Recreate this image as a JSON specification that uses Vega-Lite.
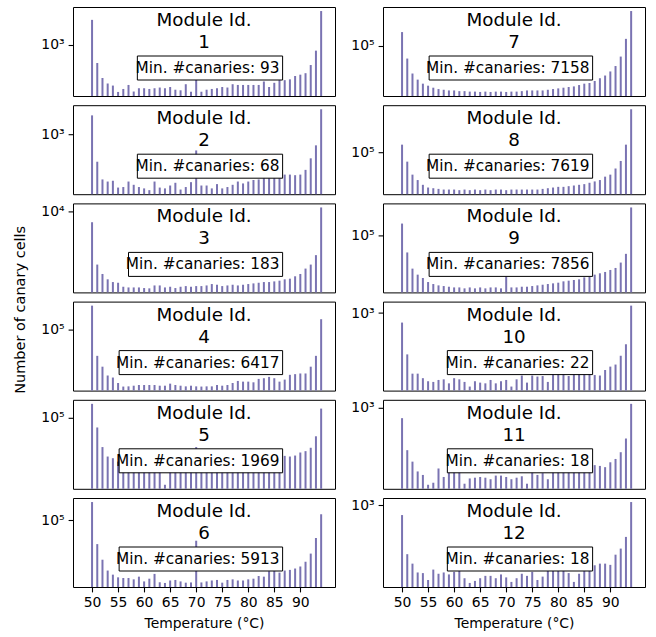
{"$schema":"https://vega.github.io/schema/vega-lite/v6.json",
"padding":{"left":12,"top":6,"right":5,"bottom":2},
"title":{"text":"Number of canary cells","orient":"left","anchor":"middle","fontSize":14.5,"fontWeight":"normal","font":"DejaVu Sans","color":"#000","offset":12,"dx":9},
"datasets":{"counts":[
{"m":1,"t":50,"c":3440},{"m":1,"t":51,"c":397},{"m":1,"t":52,"c":187},{"m":1,"t":53,"c":142},{"m":1,"t":54,"c":128},{"m":1,"t":55,"c":93},{"m":1,"t":56,"c":108},{"m":1,"t":57,"c":132},{"m":1,"t":58,"c":95},{"m":1,"t":59,"c":112},{"m":1,"t":60,"c":112},{"m":1,"t":61,"c":108},{"m":1,"t":62,"c":112},{"m":1,"t":63,"c":116},{"m":1,"t":64,"c":112},{"m":1,"t":65,"c":119},{"m":1,"t":66,"c":104},{"m":1,"t":67,"c":101},{"m":1,"t":68,"c":137},{"m":1,"t":69,"c":94},{"m":1,"t":70,"c":200},{"m":1,"t":71,"c":94},{"m":1,"t":72,"c":104},{"m":1,"t":73,"c":108},{"m":1,"t":74,"c":112},{"m":1,"t":75,"c":119},{"m":1,"t":76,"c":116},{"m":1,"t":77,"c":137},{"m":1,"t":78,"c":132},{"m":1,"t":79,"c":132},{"m":1,"t":80,"c":132},{"m":1,"t":81,"c":132},{"m":1,"t":82,"c":132},{"m":1,"t":83,"c":157},{"m":1,"t":84,"c":119},{"m":1,"t":85,"c":147},{"m":1,"t":86,"c":168},{"m":1,"t":87,"c":168},{"m":1,"t":88,"c":175},{"m":1,"t":89,"c":207},{"m":1,"t":90,"c":221},{"m":1,"t":91,"c":238},{"m":1,"t":92,"c":358},{"m":1,"t":93,"c":736},{"m":1,"t":94,"c":5350},
{"m":2,"t":50,"c":2512},{"m":2,"t":51,"c":268},{"m":2,"t":52,"c":114},{"m":2,"t":53,"c":103},{"m":2,"t":54,"c":107},{"m":2,"t":55,"c":77},{"m":2,"t":56,"c":79},{"m":2,"t":57,"c":103},{"m":2,"t":58,"c":88},{"m":2,"t":59,"c":79},{"m":2,"t":60,"c":74},{"m":2,"t":61,"c":68},{"m":2,"t":62,"c":103},{"m":2,"t":63,"c":77},{"m":2,"t":64,"c":74},{"m":2,"t":65,"c":85},{"m":2,"t":66,"c":97},{"m":2,"t":67,"c":70},{"m":2,"t":68,"c":79},{"m":2,"t":69,"c":100},{"m":2,"t":70,"c":462},{"m":2,"t":71,"c":85},{"m":2,"t":72,"c":85},{"m":2,"t":73,"c":74},{"m":2,"t":74,"c":91},{"m":2,"t":75,"c":74},{"m":2,"t":76,"c":79},{"m":2,"t":77,"c":88},{"m":2,"t":78,"c":103},{"m":2,"t":79,"c":94},{"m":2,"t":80,"c":103},{"m":2,"t":81,"c":111},{"m":2,"t":82,"c":114},{"m":2,"t":83,"c":122},{"m":2,"t":84,"c":122},{"m":2,"t":85,"c":126},{"m":2,"t":86,"c":135},{"m":2,"t":87,"c":144},{"m":2,"t":88,"c":144},{"m":2,"t":89,"c":140},{"m":2,"t":90,"c":144},{"m":2,"t":91,"c":181},{"m":2,"t":92,"c":316},{"m":2,"t":93,"c":591},{"m":2,"t":94,"c":3376},
{"m":3,"t":50,"c":5715},{"m":3,"t":51,"c":631},{"m":3,"t":52,"c":387},{"m":3,"t":53,"c":293},{"m":3,"t":54,"c":254},{"m":3,"t":55,"c":245},{"m":3,"t":56,"c":199},{"m":3,"t":57,"c":192},{"m":3,"t":58,"c":192},{"m":3,"t":59,"c":192},{"m":3,"t":60,"c":186},{"m":3,"t":61,"c":183},{"m":3,"t":62,"c":213},{"m":3,"t":63,"c":213},{"m":3,"t":64,"c":192},{"m":3,"t":65,"c":199},{"m":3,"t":66,"c":186},{"m":3,"t":67,"c":199},{"m":3,"t":68,"c":206},{"m":3,"t":69,"c":199},{"m":3,"t":70,"c":206},{"m":3,"t":71,"c":206},{"m":3,"t":72,"c":213},{"m":3,"t":73,"c":229},{"m":3,"t":74,"c":221},{"m":3,"t":75,"c":206},{"m":3,"t":76,"c":213},{"m":3,"t":77,"c":221},{"m":3,"t":78,"c":213},{"m":3,"t":79,"c":221},{"m":3,"t":80,"c":229},{"m":3,"t":81,"c":237},{"m":3,"t":82,"c":245},{"m":3,"t":83,"c":254},{"m":3,"t":84,"c":254},{"m":3,"t":85,"c":263},{"m":3,"t":86,"c":273},{"m":3,"t":87,"c":293},{"m":3,"t":88,"c":303},{"m":3,"t":89,"c":343},{"m":3,"t":90,"c":387},{"m":3,"t":91,"c":512},{"m":3,"t":92,"c":631},{"m":3,"t":93,"c":1031},{"m":3,"t":94,"c":12330},
{"m":4,"t":50,"c":312600},{"m":4,"t":51,"c":28050},{"m":4,"t":52,"c":16670},{"m":4,"t":53,"c":10910},{"m":4,"t":54,"c":9890},{"m":4,"t":55,"c":7620},{"m":4,"t":56,"c":6417},{"m":4,"t":57,"c":6480},{"m":4,"t":58,"c":6690},{"m":4,"t":59,"c":6910},{"m":4,"t":60,"c":6910},{"m":4,"t":61,"c":6910},{"m":4,"t":62,"c":6910},{"m":4,"t":63,"c":6690},{"m":4,"t":64,"c":6690},{"m":4,"t":65,"c":7380},{"m":4,"t":66,"c":6910},{"m":4,"t":67,"c":6690},{"m":4,"t":68,"c":6480},{"m":4,"t":69,"c":6690},{"m":4,"t":70,"c":6480},{"m":4,"t":71,"c":6417},{"m":4,"t":72,"c":6480},{"m":4,"t":73,"c":6480},{"m":4,"t":74,"c":6910},{"m":4,"t":75,"c":6690},{"m":4,"t":76,"c":6910},{"m":4,"t":77,"c":7620},{"m":4,"t":78,"c":8400},{"m":4,"t":79,"c":8130},{"m":4,"t":80,"c":8130},{"m":4,"t":81,"c":7870},{"m":4,"t":82,"c":9270},{"m":4,"t":83,"c":9580},{"m":4,"t":84,"c":10210},{"m":4,"t":85,"c":9580},{"m":4,"t":86,"c":8130},{"m":4,"t":87,"c":8970},{"m":4,"t":88,"c":11270},{"m":4,"t":89,"c":11650},{"m":4,"t":90,"c":12030},{"m":4,"t":91,"c":12030},{"m":4,"t":92,"c":16670},{"m":4,"t":93,"c":28050},{"m":4,"t":94,"c":163000},
{"m":5,"t":50,"c":219800},{"m":5,"t":51,"c":55460},{"m":5,"t":52,"c":17700},{"m":5,"t":53,"c":10200},{"m":5,"t":54,"c":9250},{"m":5,"t":55,"c":7590},{"m":5,"t":56,"c":6800},{"m":5,"t":57,"c":6200},{"m":5,"t":58,"c":5800},{"m":5,"t":59,"c":5600},{"m":5,"t":60,"c":5900},{"m":5,"t":61,"c":5400},{"m":5,"t":62,"c":5700},{"m":5,"t":63,"c":5600},{"m":5,"t":64,"c":1969},{"m":5,"t":65,"c":5500},{"m":5,"t":66,"c":5800},{"m":5,"t":67,"c":5600},{"m":5,"t":68,"c":5900},{"m":5,"t":69,"c":6000},{"m":5,"t":70,"c":17700},{"m":5,"t":71,"c":5800},{"m":5,"t":72,"c":5900},{"m":5,"t":73,"c":6100},{"m":5,"t":74,"c":6000},{"m":5,"t":75,"c":6200},{"m":5,"t":76,"c":6300},{"m":5,"t":77,"c":6500},{"m":5,"t":78,"c":6700},{"m":5,"t":79,"c":6900},{"m":5,"t":80,"c":7100},{"m":5,"t":81,"c":7300},{"m":5,"t":82,"c":7500},{"m":5,"t":83,"c":7800},{"m":5,"t":84,"c":8300},{"m":5,"t":85,"c":8800},{"m":5,"t":86,"c":9600},{"m":5,"t":87,"c":10600},{"m":5,"t":88,"c":10200},{"m":5,"t":89,"c":10800},{"m":5,"t":90,"c":12900},{"m":5,"t":91,"c":13960},{"m":5,"t":92,"c":17000},{"m":5,"t":93,"c":33200},{"m":5,"t":94,"c":166700},
{"m":6,"t":50,"c":228800},{"m":6,"t":51,"c":34200},{"m":6,"t":52,"c":16900},{"m":6,"t":53,"c":10360},{"m":6,"t":54,"c":8610},{"m":6,"t":55,"c":7620},{"m":6,"t":56,"c":7390},{"m":6,"t":57,"c":7390},{"m":6,"t":58,"c":6960},{"m":6,"t":59,"c":7860},{"m":6,"t":60,"c":6340},{"m":6,"t":61,"c":7170},{"m":6,"t":62,"c":8900},{"m":6,"t":63,"c":6100},{"m":6,"t":64,"c":5913},{"m":6,"t":65,"c":6610},{"m":6,"t":66,"c":6770},{"m":6,"t":67,"c":6340},{"m":6,"t":68,"c":5990},{"m":6,"t":69,"c":6050},{"m":6,"t":70,"c":39850},{"m":6,"t":71,"c":6050},{"m":6,"t":72,"c":6340},{"m":6,"t":73,"c":6610},{"m":6,"t":74,"c":6770},{"m":6,"t":75,"c":5990},{"m":6,"t":76,"c":6770},{"m":6,"t":77,"c":6960},{"m":6,"t":78,"c":6610},{"m":6,"t":79,"c":6610},{"m":6,"t":80,"c":6960},{"m":6,"t":81,"c":7170},{"m":6,"t":82,"c":8090},{"m":6,"t":83,"c":7860},{"m":6,"t":84,"c":10040},{"m":6,"t":85,"c":10360},{"m":6,"t":86,"c":9440},{"m":6,"t":87,"c":10360},{"m":6,"t":88,"c":10670},{"m":6,"t":89,"c":11350},{"m":6,"t":90,"c":12440},{"m":6,"t":91,"c":15420},{"m":6,"t":92,"c":22280},{"m":6,"t":93,"c":45100},{"m":6,"t":94,"c":131800},
{"m":7,"t":50,"c":216700},{"m":7,"t":51,"c":47960},{"m":7,"t":52,"c":20460},{"m":7,"t":53,"c":14450},{"m":7,"t":54,"c":11480},{"m":7,"t":55,"c":10230},{"m":7,"t":56,"c":9120},{"m":7,"t":57,"c":8440},{"m":7,"t":58,"c":8110},{"m":7,"t":59,"c":7800},{"m":7,"t":60,"c":7800},{"m":7,"t":61,"c":7500},{"m":7,"t":62,"c":7500},{"m":7,"t":63,"c":7300},{"m":7,"t":64,"c":7300},{"m":7,"t":65,"c":7158},{"m":7,"t":66,"c":7300},{"m":7,"t":67,"c":7158},{"m":7,"t":68,"c":7300},{"m":7,"t":69,"c":7300},{"m":7,"t":70,"c":7158},{"m":7,"t":71,"c":7300},{"m":7,"t":72,"c":7300},{"m":7,"t":73,"c":7500},{"m":7,"t":74,"c":7800},{"m":7,"t":75,"c":7800},{"m":7,"t":76,"c":7800},{"m":7,"t":77,"c":7800},{"m":7,"t":78,"c":8110},{"m":7,"t":79,"c":8440},{"m":7,"t":80,"c":8770},{"m":7,"t":81,"c":9120},{"m":7,"t":82,"c":9480},{"m":7,"t":83,"c":9820},{"m":7,"t":84,"c":10600},{"m":7,"t":85,"c":11480},{"m":7,"t":86,"c":11910},{"m":7,"t":87,"c":13360},{"m":7,"t":88,"c":15630},{"m":7,"t":89,"c":18240},{"m":7,"t":90,"c":23010},{"m":7,"t":91,"c":31330},{"m":7,"t":92,"c":53700},{"m":7,"t":93,"c":147300},{"m":7,"t":94,"c":717800},
{"m":8,"t":50,"c":166000},{"m":8,"t":51,"c":52500},{"m":8,"t":52,"c":21800},{"m":8,"t":53,"c":15100},{"m":8,"t":54,"c":10940},{"m":8,"t":55,"c":9100},{"m":8,"t":56,"c":8690},{"m":8,"t":57,"c":8300},{"m":8,"t":58,"c":7940},{"m":8,"t":59,"c":7940},{"m":8,"t":60,"c":7940},{"m":8,"t":61,"c":7619},{"m":8,"t":62,"c":7940},{"m":8,"t":63,"c":7619},{"m":8,"t":64,"c":7940},{"m":8,"t":65,"c":7619},{"m":8,"t":66,"c":7940},{"m":8,"t":67,"c":7619},{"m":8,"t":68,"c":7940},{"m":8,"t":69,"c":7940},{"m":8,"t":70,"c":7619},{"m":8,"t":71,"c":7940},{"m":8,"t":72,"c":7940},{"m":8,"t":73,"c":7940},{"m":8,"t":74,"c":7940},{"m":8,"t":75,"c":7940},{"m":8,"t":76,"c":7940},{"m":8,"t":77,"c":8300},{"m":8,"t":78,"c":8690},{"m":8,"t":79,"c":9100},{"m":8,"t":80,"c":9530},{"m":8,"t":81,"c":9530},{"m":8,"t":82,"c":9980},{"m":8,"t":83,"c":10440},{"m":8,"t":84,"c":10940},{"m":8,"t":85,"c":11460},{"m":8,"t":86,"c":12560},{"m":8,"t":87,"c":13770},{"m":8,"t":88,"c":15100},{"m":8,"t":89,"c":19010},{"m":8,"t":90,"c":21800},{"m":8,"t":91,"c":33000},{"m":8,"t":92,"c":55000},{"m":8,"t":93,"c":166000},{"m":8,"t":94,"c":1824000},
{"m":9,"t":50,"c":179500},{"m":9,"t":51,"c":44500},{"m":9,"t":52,"c":20370},{"m":9,"t":53,"c":15230},{"m":9,"t":54,"c":12950},{"m":9,"t":55,"c":10660},{"m":9,"t":56,"c":9680},{"m":9,"t":57,"c":9070},{"m":9,"t":58,"c":8780},{"m":9,"t":59,"c":8500},{"m":9,"t":60,"c":8220},{"m":9,"t":61,"c":8220},{"m":9,"t":62,"c":7856},{"m":9,"t":63,"c":8220},{"m":9,"t":64,"c":7856},{"m":9,"t":65,"c":8220},{"m":9,"t":66,"c":7856},{"m":9,"t":67,"c":8220},{"m":9,"t":68,"c":8220},{"m":9,"t":69,"c":7856},{"m":9,"t":70,"c":24000},{"m":9,"t":71,"c":8220},{"m":9,"t":72,"c":8220},{"m":9,"t":73,"c":8500},{"m":9,"t":74,"c":8500},{"m":9,"t":75,"c":8780},{"m":9,"t":76,"c":9070},{"m":9,"t":77,"c":9370},{"m":9,"t":78,"c":9680},{"m":9,"t":79,"c":10000},{"m":9,"t":80,"c":10330},{"m":9,"t":81,"c":11020},{"m":9,"t":82,"c":11380},{"m":9,"t":83,"c":11750},{"m":9,"t":84,"c":12140},{"m":9,"t":85,"c":13370},{"m":9,"t":86,"c":13800},{"m":9,"t":87,"c":15230},{"m":9,"t":88,"c":16260},{"m":9,"t":89,"c":17340},{"m":9,"t":90,"c":19100},{"m":9,"t":91,"c":21040},{"m":9,"t":92,"c":27280},{"m":9,"t":93,"c":41590},{"m":9,"t":94,"c":390800},
{"m":10,"t":50,"c":611},{"m":10,"t":51,"c":117},{"m":10,"t":52,"c":43},{"m":10,"t":53,"c":43},{"m":10,"t":54,"c":34},{"m":10,"t":55,"c":29},{"m":10,"t":56,"c":28},{"m":10,"t":57,"c":31},{"m":10,"t":58,"c":32},{"m":10,"t":59,"c":26},{"m":10,"t":60,"c":34},{"m":10,"t":61,"c":32},{"m":10,"t":62,"c":28},{"m":10,"t":63,"c":22},{"m":10,"t":64,"c":29},{"m":10,"t":65,"c":27},{"m":10,"t":66,"c":26},{"m":10,"t":67,"c":31},{"m":10,"t":68,"c":26},{"m":10,"t":69,"c":29},{"m":10,"t":70,"c":31},{"m":10,"t":71,"c":22},{"m":10,"t":72,"c":32},{"m":10,"t":73,"c":39},{"m":10,"t":74,"c":27},{"m":10,"t":75,"c":39},{"m":10,"t":76,"c":37},{"m":10,"t":77,"c":38},{"m":10,"t":78,"c":28},{"m":10,"t":79,"c":45},{"m":10,"t":80,"c":45},{"m":10,"t":81,"c":49},{"m":10,"t":82,"c":38},{"m":10,"t":83,"c":52},{"m":10,"t":84,"c":49},{"m":10,"t":85,"c":45},{"m":10,"t":86,"c":45},{"m":10,"t":87,"c":40},{"m":10,"t":88,"c":39},{"m":10,"t":89,"c":52},{"m":10,"t":90,"c":62},{"m":10,"t":91,"c":69},{"m":10,"t":92,"c":109},{"m":10,"t":93,"c":198},{"m":10,"t":94,"c":1472},
{"m":11,"t":50,"c":577},{"m":11,"t":51,"c":109},{"m":11,"t":52,"c":60},{"m":11,"t":53,"c":36},{"m":11,"t":54,"c":30},{"m":11,"t":55,"c":18},{"m":11,"t":56,"c":20},{"m":11,"t":57,"c":42},{"m":11,"t":58,"c":27},{"m":11,"t":59,"c":34},{"m":11,"t":60,"c":40},{"m":11,"t":61,"c":45},{"m":11,"t":62,"c":19},{"m":11,"t":63,"c":25},{"m":11,"t":64,"c":26},{"m":11,"t":65,"c":27},{"m":11,"t":66,"c":26},{"m":11,"t":67,"c":24},{"m":11,"t":68,"c":29},{"m":11,"t":69,"c":29},{"m":11,"t":70,"c":27},{"m":11,"t":71,"c":24},{"m":11,"t":72,"c":26},{"m":11,"t":73,"c":28},{"m":11,"t":74,"c":19},{"m":11,"t":75,"c":40},{"m":11,"t":76,"c":30},{"m":11,"t":77,"c":33},{"m":11,"t":78,"c":24},{"m":11,"t":79,"c":40},{"m":11,"t":80,"c":45},{"m":11,"t":81,"c":48},{"m":11,"t":82,"c":45},{"m":11,"t":83,"c":50},{"m":11,"t":84,"c":48},{"m":11,"t":85,"c":45},{"m":11,"t":86,"c":52},{"m":11,"t":87,"c":50},{"m":11,"t":88,"c":48},{"m":11,"t":89,"c":45},{"m":11,"t":90,"c":58},{"m":11,"t":91,"c":69},{"m":11,"t":92,"c":98},{"m":11,"t":93,"c":200},{"m":11,"t":94,"c":1216},
{"m":12,"t":50,"c":608},{"m":12,"t":51,"c":80},{"m":12,"t":52,"c":49},{"m":12,"t":53,"c":31},{"m":12,"t":54,"c":30},{"m":12,"t":55,"c":21},{"m":12,"t":56,"c":36},{"m":12,"t":57,"c":29},{"m":12,"t":58,"c":31},{"m":12,"t":59,"c":28},{"m":12,"t":60,"c":32},{"m":12,"t":61,"c":34},{"m":12,"t":62,"c":23},{"m":12,"t":63,"c":18},{"m":12,"t":64,"c":20},{"m":12,"t":65,"c":23},{"m":12,"t":66,"c":26},{"m":12,"t":67,"c":26},{"m":12,"t":68,"c":23},{"m":12,"t":69,"c":28},{"m":12,"t":70,"c":24},{"m":12,"t":71,"c":19},{"m":12,"t":72,"c":23},{"m":12,"t":73,"c":29},{"m":12,"t":74,"c":26},{"m":12,"t":75,"c":32},{"m":12,"t":76,"c":21},{"m":12,"t":77,"c":25},{"m":12,"t":78,"c":36},{"m":12,"t":79,"c":40},{"m":12,"t":80,"c":43},{"m":12,"t":81,"c":34},{"m":12,"t":82,"c":30},{"m":12,"t":83,"c":19},{"m":12,"t":84,"c":29},{"m":12,"t":85,"c":38},{"m":12,"t":86,"c":45},{"m":12,"t":87,"c":45},{"m":12,"t":88,"c":49},{"m":12,"t":89,"c":49},{"m":12,"t":90,"c":46},{"m":12,"t":91,"c":78},{"m":12,"t":92,"c":107},{"m":12,"t":93,"c":196},{"m":12,"t":94,"c":1194}
]},
"data":{"name":"counts"},
"columns":2,
"spacing":{"row":9.2,"column":48},
"bounds":"flush",
"concat":[
{"width":262,"height":89,"transform":[{"filter":"datum.m == 1"}],"layer":[
 {"mark":{"type":"bar","size":2,"color":"#7a73b2"},"encoding":{"x":{"field":"t","type":"quantitative","scale":{"domain":[47.3,95.7],"nice":false,"zero":false},"axis":null},"y":{"field":"c","type":"quantitative","stack":null,"scale":{"type":"log","nice":false,"zero":false,"domain":[75.9,6552]},"axis":{"values":[1000],"title":null,"labelExpr":"datum.value == 1000 ? '10³' : datum.value == 10000 ? '10⁴' : '10⁵'"}}}},
 {"transform":[{"aggregate":[{"op":"min","field":"c","as":"mn"}]},{"calculate":"'Min. #canaries: ' + datum.mn","as":"label"}],"layer":[
  {"mark":{"type":"text","fontSize":18.3,"lineHeight":22,"align":"center","baseline":"alphabetic"},"encoding":{"x":{"datum":71.5},"y":{"value":19},"text":{"value":["Module Id.","1"]}}},
  {"mark":{"type":"rect","fill":"#fff","stroke":"#000","strokeWidth":1},"encoding":{"x":{"datum":58.7},"x2":{"datum":86.6},"y":{"value":49},"y2":{"value":73}}},
  {"mark":{"type":"text","fontSize":15.3,"align":"right","baseline":"middle"},"encoding":{"x":{"datum":86.0},"y":{"value":61},"text":{"field":"label"}}}]}]},
{"width":262,"height":89,"transform":[{"filter":"datum.m == 7"}],"layer":[
 {"mark":{"type":"bar","size":2,"color":"#7a73b2"},"encoding":{"x":{"field":"t","type":"quantitative","scale":{"domain":[47.3,95.7],"nice":false,"zero":false},"axis":null},"y":{"field":"c","type":"quantitative","stack":null,"scale":{"type":"log","nice":false,"zero":false,"domain":[5685,903800]},"axis":{"values":[100000],"title":null,"labelExpr":"datum.value == 1000 ? '10³' : datum.value == 10000 ? '10⁴' : '10⁵'"}}}},
 {"transform":[{"aggregate":[{"op":"min","field":"c","as":"mn"}]},{"calculate":"'Min. #canaries: ' + datum.mn","as":"label"}],"layer":[
  {"mark":{"type":"text","fontSize":18.3,"lineHeight":22,"align":"center","baseline":"alphabetic"},"encoding":{"x":{"datum":71.5},"y":{"value":19},"text":{"value":["Module Id.","7"]}}},
  {"mark":{"type":"rect","fill":"#fff","stroke":"#000","strokeWidth":1},"encoding":{"x":{"datum":55.2},"x2":{"datum":86.6},"y":{"value":49},"y2":{"value":73}}},
  {"mark":{"type":"text","fontSize":15.3,"align":"right","baseline":"middle"},"encoding":{"x":{"datum":86.0},"y":{"value":61},"text":{"field":"label"}}}]}]},
{"width":262,"height":89,"transform":[{"filter":"datum.m == 2"}],"layer":[
 {"mark":{"type":"bar","size":2,"color":"#7a73b2"},"encoding":{"x":{"field":"t","type":"quantitative","scale":{"domain":[47.3,95.7],"nice":false,"zero":false},"axis":null},"y":{"field":"c","type":"quantitative","stack":null,"scale":{"type":"log","nice":false,"zero":false,"domain":[55.9,4104]},"axis":{"values":[1000],"title":null,"labelExpr":"datum.value == 1000 ? '10³' : datum.value == 10000 ? '10⁴' : '10⁵'"}}}},
 {"transform":[{"aggregate":[{"op":"min","field":"c","as":"mn"}]},{"calculate":"'Min. #canaries: ' + datum.mn","as":"label"}],"layer":[
  {"mark":{"type":"text","fontSize":18.3,"lineHeight":22,"align":"center","baseline":"alphabetic"},"encoding":{"x":{"datum":71.5},"y":{"value":19},"text":{"value":["Module Id.","2"]}}},
  {"mark":{"type":"rect","fill":"#fff","stroke":"#000","strokeWidth":1},"encoding":{"x":{"datum":58.7},"x2":{"datum":86.6},"y":{"value":49},"y2":{"value":73}}},
  {"mark":{"type":"text","fontSize":15.3,"align":"right","baseline":"middle"},"encoding":{"x":{"datum":86.0},"y":{"value":61},"text":{"field":"label"}}}]}]},
{"width":262,"height":89,"transform":[{"filter":"datum.m == 8"}],"layer":[
 {"mark":{"type":"bar","size":2,"color":"#7a73b2"},"encoding":{"x":{"field":"t","type":"quantitative","scale":{"domain":[47.3,95.7],"nice":false,"zero":false},"axis":null},"y":{"field":"c","type":"quantitative","stack":null,"scale":{"type":"log","nice":false,"zero":false,"domain":[5794,2398700]},"axis":{"values":[100000],"title":null,"labelExpr":"datum.value == 1000 ? '10³' : datum.value == 10000 ? '10⁴' : '10⁵'"}}}},
 {"transform":[{"aggregate":[{"op":"min","field":"c","as":"mn"}]},{"calculate":"'Min. #canaries: ' + datum.mn","as":"label"}],"layer":[
  {"mark":{"type":"text","fontSize":18.3,"lineHeight":22,"align":"center","baseline":"alphabetic"},"encoding":{"x":{"datum":71.5},"y":{"value":19},"text":{"value":["Module Id.","8"]}}},
  {"mark":{"type":"rect","fill":"#fff","stroke":"#000","strokeWidth":1},"encoding":{"x":{"datum":55.2},"x2":{"datum":86.6},"y":{"value":49},"y2":{"value":73}}},
  {"mark":{"type":"text","fontSize":15.3,"align":"right","baseline":"middle"},"encoding":{"x":{"datum":86.0},"y":{"value":61},"text":{"field":"label"}}}]}]},
{"width":262,"height":89,"transform":[{"filter":"datum.m == 3"}],"layer":[
 {"mark":{"type":"bar","size":2,"color":"#7a73b2"},"encoding":{"x":{"field":"t","type":"quantitative","scale":{"domain":[47.3,95.7],"nice":false,"zero":false},"axis":null},"y":{"field":"c","type":"quantitative","stack":null,"scale":{"type":"log","nice":false,"zero":false,"domain":[148.3,15219]},"axis":{"values":[10000],"title":null,"labelExpr":"datum.value == 1000 ? '10³' : datum.value == 10000 ? '10⁴' : '10⁵'"}}}},
 {"transform":[{"aggregate":[{"op":"min","field":"c","as":"mn"}]},{"calculate":"'Min. #canaries: ' + datum.mn","as":"label"}],"layer":[
  {"mark":{"type":"text","fontSize":18.3,"lineHeight":22,"align":"center","baseline":"alphabetic"},"encoding":{"x":{"datum":71.5},"y":{"value":19},"text":{"value":["Module Id.","3"]}}},
  {"mark":{"type":"rect","fill":"#fff","stroke":"#000","strokeWidth":1},"encoding":{"x":{"datum":57.0},"x2":{"datum":86.6},"y":{"value":49},"y2":{"value":73}}},
  {"mark":{"type":"text","fontSize":15.3,"align":"right","baseline":"middle"},"encoding":{"x":{"datum":86.0},"y":{"value":61},"text":{"field":"label"}}}]}]},
{"width":262,"height":89,"transform":[{"filter":"datum.m == 9"}],"layer":[
 {"mark":{"type":"bar","size":2,"color":"#7a73b2"},"encoding":{"x":{"field":"t","type":"quantitative","scale":{"domain":[47.3,95.7],"nice":false,"zero":false},"axis":null},"y":{"field":"c","type":"quantitative","stack":null,"scale":{"type":"log","nice":false,"zero":false,"domain":[6461,475200]},"axis":{"values":[100000],"title":null,"labelExpr":"datum.value == 1000 ? '10³' : datum.value == 10000 ? '10⁴' : '10⁵'"}}}},
 {"transform":[{"aggregate":[{"op":"min","field":"c","as":"mn"}]},{"calculate":"'Min. #canaries: ' + datum.mn","as":"label"}],"layer":[
  {"mark":{"type":"text","fontSize":18.3,"lineHeight":22,"align":"center","baseline":"alphabetic"},"encoding":{"x":{"datum":71.5},"y":{"value":19},"text":{"value":["Module Id.","9"]}}},
  {"mark":{"type":"rect","fill":"#fff","stroke":"#000","strokeWidth":1},"encoding":{"x":{"datum":55.2},"x2":{"datum":86.6},"y":{"value":49},"y2":{"value":73}}},
  {"mark":{"type":"text","fontSize":15.3,"align":"right","baseline":"middle"},"encoding":{"x":{"datum":86.0},"y":{"value":61},"text":{"field":"label"}}}]}]},
{"width":262,"height":89,"transform":[{"filter":"datum.m == 4"}],"layer":[
 {"mark":{"type":"bar","size":2,"color":"#7a73b2"},"encoding":{"x":{"field":"t","type":"quantitative","scale":{"domain":[47.3,95.7],"nice":false,"zero":false},"axis":null},"y":{"field":"c","type":"quantitative","stack":null,"scale":{"type":"log","nice":false,"zero":false,"domain":[5285,379590]},"axis":{"values":[100000],"title":null,"labelExpr":"datum.value == 1000 ? '10³' : datum.value == 10000 ? '10⁴' : '10⁵'"}}}},
 {"transform":[{"aggregate":[{"op":"min","field":"c","as":"mn"}]},{"calculate":"'Min. #canaries: ' + datum.mn","as":"label"}],"layer":[
  {"mark":{"type":"text","fontSize":18.3,"lineHeight":22,"align":"center","baseline":"alphabetic"},"encoding":{"x":{"datum":71.5},"y":{"value":19},"text":{"value":["Module Id.","4"]}}},
  {"mark":{"type":"rect","fill":"#fff","stroke":"#000","strokeWidth":1},"encoding":{"x":{"datum":55.2},"x2":{"datum":86.6},"y":{"value":49},"y2":{"value":73}}},
  {"mark":{"type":"text","fontSize":15.3,"align":"right","baseline":"middle"},"encoding":{"x":{"datum":86.0},"y":{"value":61},"text":{"field":"label"}}}]}]},
{"width":262,"height":89,"transform":[{"filter":"datum.m == 10"}],"layer":[
 {"mark":{"type":"bar","size":2,"color":"#7a73b2"},"encoding":{"x":{"field":"t","type":"quantitative","scale":{"domain":[47.3,95.7],"nice":false,"zero":false},"axis":null},"y":{"field":"c","type":"quantitative","stack":null,"scale":{"type":"log","nice":false,"zero":false,"domain":[17.83,1816]},"axis":{"values":[1000],"title":null,"labelExpr":"datum.value == 1000 ? '10³' : datum.value == 10000 ? '10⁴' : '10⁵'"}}}},
 {"transform":[{"aggregate":[{"op":"min","field":"c","as":"mn"}]},{"calculate":"'Min. #canaries: ' + datum.mn","as":"label"}],"layer":[
  {"mark":{"type":"text","fontSize":18.3,"lineHeight":22,"align":"center","baseline":"alphabetic"},"encoding":{"x":{"datum":71.5},"y":{"value":19},"text":{"value":["Module Id.","10"]}}},
  {"mark":{"type":"rect","fill":"#fff","stroke":"#000","strokeWidth":1},"encoding":{"x":{"datum":58.7},"x2":{"datum":86.6},"y":{"value":49},"y2":{"value":73}}},
  {"mark":{"type":"text","fontSize":15.3,"align":"right","baseline":"middle"},"encoding":{"x":{"datum":86.0},"y":{"value":61},"text":{"field":"label"}}}]}]},
{"width":262,"height":89,"transform":[{"filter":"datum.m == 5"}],"layer":[
 {"mark":{"type":"bar","size":2,"color":"#7a73b2"},"encoding":{"x":{"field":"t","type":"quantitative","scale":{"domain":[47.3,95.7],"nice":false,"zero":false},"axis":null},"y":{"field":"c","type":"quantitative","stack":null,"scale":{"type":"log","nice":false,"zero":false,"domain":[1556,278200]},"axis":{"values":[100000],"title":null,"labelExpr":"datum.value == 1000 ? '10³' : datum.value == 10000 ? '10⁴' : '10⁵'"}}}},
 {"transform":[{"aggregate":[{"op":"min","field":"c","as":"mn"}]},{"calculate":"'Min. #canaries: ' + datum.mn","as":"label"}],"layer":[
  {"mark":{"type":"text","fontSize":18.3,"lineHeight":22,"align":"center","baseline":"alphabetic"},"encoding":{"x":{"datum":71.5},"y":{"value":19},"text":{"value":["Module Id.","5"]}}},
  {"mark":{"type":"rect","fill":"#fff","stroke":"#000","strokeWidth":1},"encoding":{"x":{"datum":55.2},"x2":{"datum":86.6},"y":{"value":49},"y2":{"value":73}}},
  {"mark":{"type":"text","fontSize":15.3,"align":"right","baseline":"middle"},"encoding":{"x":{"datum":86.0},"y":{"value":61},"text":{"field":"label"}}}]}]},
{"width":262,"height":89,"transform":[{"filter":"datum.m == 11"}],"layer":[
 {"mark":{"type":"bar","size":2,"color":"#7a73b2"},"encoding":{"x":{"field":"t","type":"quantitative","scale":{"domain":[47.3,95.7],"nice":false,"zero":false},"axis":null},"y":{"field":"c","type":"quantitative","stack":null,"scale":{"type":"log","nice":false,"zero":false,"domain":[14.58,1501]},"axis":{"values":[1000],"title":null,"labelExpr":"datum.value == 1000 ? '10³' : datum.value == 10000 ? '10⁴' : '10⁵'"}}}},
 {"transform":[{"aggregate":[{"op":"min","field":"c","as":"mn"}]},{"calculate":"'Min. #canaries: ' + datum.mn","as":"label"}],"layer":[
  {"mark":{"type":"text","fontSize":18.3,"lineHeight":22,"align":"center","baseline":"alphabetic"},"encoding":{"x":{"datum":71.5},"y":{"value":19},"text":{"value":["Module Id.","11"]}}},
  {"mark":{"type":"rect","fill":"#fff","stroke":"#000","strokeWidth":1},"encoding":{"x":{"datum":58.7},"x2":{"datum":86.6},"y":{"value":49},"y2":{"value":73}}},
  {"mark":{"type":"text","fontSize":15.3,"align":"right","baseline":"middle"},"encoding":{"x":{"datum":86.0},"y":{"value":61},"text":{"field":"label"}}}]}]},
{"width":262,"height":89,"transform":[{"filter":"datum.m == 6"}],"layer":[
 {"mark":{"type":"bar","size":2,"color":"#7a73b2"},"encoding":{"x":{"field":"t","type":"quantitative","scale":{"domain":[47.3,95.7],"nice":false,"zero":false},"axis":{"values":[50,55,60,65,70,75,80,85,90],"labelOverlap":false,"title":"Temperature (°C)"}},"y":{"field":"c","type":"quantitative","stack":null,"scale":{"type":"log","nice":false,"zero":false,"domain":[4925,274700]},"axis":{"values":[100000],"title":null,"labelExpr":"datum.value == 1000 ? '10³' : datum.value == 10000 ? '10⁴' : '10⁵'"}}}},
 {"transform":[{"aggregate":[{"op":"min","field":"c","as":"mn"}]},{"calculate":"'Min. #canaries: ' + datum.mn","as":"label"}],"layer":[
  {"mark":{"type":"text","fontSize":18.3,"lineHeight":22,"align":"center","baseline":"alphabetic"},"encoding":{"x":{"datum":71.5,"axis":{"values":[50,55,60,65,70,75,80,85,90],"labelOverlap":false,"title":"Temperature (°C)"}},"y":{"value":19},"text":{"value":["Module Id.","6"]}}},
  {"mark":{"type":"rect","fill":"#fff","stroke":"#000","strokeWidth":1},"encoding":{"x":{"datum":55.2,"axis":{"values":[50,55,60,65,70,75,80,85,90],"labelOverlap":false,"title":"Temperature (°C)"}},"x2":{"datum":86.6},"y":{"value":49},"y2":{"value":73}}},
  {"mark":{"type":"text","fontSize":15.3,"align":"right","baseline":"middle"},"encoding":{"x":{"datum":86.0,"axis":{"values":[50,55,60,65,70,75,80,85,90],"labelOverlap":false,"title":"Temperature (°C)"}},"y":{"value":61},"text":{"field":"label"}}}]}]},
{"width":262,"height":89,"transform":[{"filter":"datum.m == 12"}],"layer":[
 {"mark":{"type":"bar","size":2,"color":"#7a73b2"},"encoding":{"x":{"field":"t","type":"quantitative","scale":{"domain":[47.3,95.7],"nice":false,"zero":false},"axis":{"values":[50,55,60,65,70,75,80,85,90],"labelOverlap":false,"title":"Temperature (°C)"}},"y":{"field":"c","type":"quantitative","stack":null,"scale":{"type":"log","nice":false,"zero":false,"domain":[14.59,1473]},"axis":{"values":[1000],"title":null,"labelExpr":"datum.value == 1000 ? '10³' : datum.value == 10000 ? '10⁴' : '10⁵'"}}}},
 {"transform":[{"aggregate":[{"op":"min","field":"c","as":"mn"}]},{"calculate":"'Min. #canaries: ' + datum.mn","as":"label"}],"layer":[
  {"mark":{"type":"text","fontSize":18.3,"lineHeight":22,"align":"center","baseline":"alphabetic"},"encoding":{"x":{"datum":71.5,"axis":{"values":[50,55,60,65,70,75,80,85,90],"labelOverlap":false,"title":"Temperature (°C)"}},"y":{"value":19},"text":{"value":["Module Id.","12"]}}},
  {"mark":{"type":"rect","fill":"#fff","stroke":"#000","strokeWidth":1},"encoding":{"x":{"datum":58.7,"axis":{"values":[50,55,60,65,70,75,80,85,90],"labelOverlap":false,"title":"Temperature (°C)"}},"x2":{"datum":86.6},"y":{"value":49},"y2":{"value":73}}},
  {"mark":{"type":"text","fontSize":15.3,"align":"right","baseline":"middle"},"encoding":{"x":{"datum":86.0,"axis":{"values":[50,55,60,65,70,75,80,85,90],"labelOverlap":false,"title":"Temperature (°C)"}},"y":{"value":61},"text":{"field":"label"}}}]}]}
],
"config":{"font":"DejaVu Sans","view":{"stroke":"#000","strokeWidth":1},
"axis":{"labelFont":"DejaVu Sans","labelFontSize":13.9,"labelColor":"#000","tickColor":"#000","tickSize":4.9,"tickWidth":1.1,"labelPadding":4,"grid":false,"domain":false,"titleFont":"DejaVu Sans","titleFontSize":13.9,"titleFontWeight":"normal","titleColor":"#000","titlePadding":7},
"text":{"font":"DejaVu Sans","color":"#000"}}
}
